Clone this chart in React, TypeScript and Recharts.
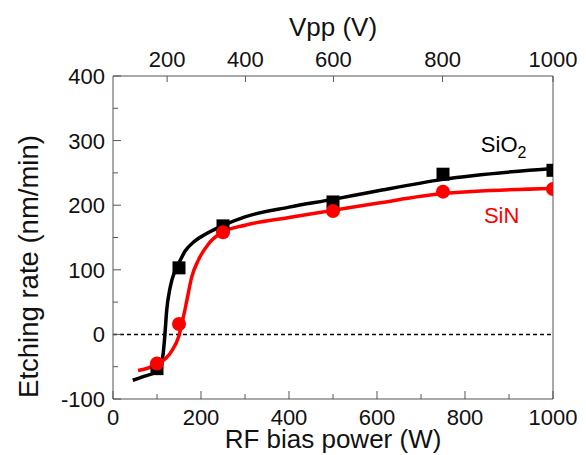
import React from "react";
import {
  ComposedChart,
  Line,
  Scatter,
  XAxis,
  YAxis,
  ReferenceLine,
  ReferenceDot,
  Label,
} from "recharts";

const FONT = '"Liberation Sans", Arial, Helvetica, sans-serif';
const AXIS = "#555";
const INK = "#111";

// measured points (RF bias power in W, etching rate in nm/min)
const POWER = [100, 150, 250, 500, 750, 1000];
const SIO2_RATE = [-53, 103, 168, 205, 248, 254];
const SIN_RATE = [-45, 16, 158, 191, 221, 225];

// fitted curves
const SIO2_FIT_W = [45, 70, 102, 108, 114, 118, 122, 130, 141, 150, 164, 185, 210, 248, 300, 400, 500, 600, 750, 1000];
const SIO2_FIT_V = [-71, -65, -56, -47, -30, 0, 37, 73, 99, 111, 129, 144, 155, 168, 182, 197, 209, 222, 240, 257];
const SIN_FIT_W = [57, 80, 103, 120, 134, 149, 160, 168, 179, 194, 217, 248, 300, 400, 500, 600, 750, 1000];
const SIN_FIT_V = [-56, -52, -45, -37, -25, -4, 27, 53, 89, 115, 140, 158, 169, 181, 192, 203, 218, 226];

// axes
const X_TICKS = [0, 100, 200, 300, 400, 500, 600, 700, 800, 900, 1000];
const X_LABELS = [0, 200, 400, 600, 800, 1000];
const Y_TICKS = [-100, -50, 0, 50, 100, 150, 200, 250, 300, 350, 400];
const Y_LABELS = [-100, 0, 100, 200, 300, 400];
// top Vpp axis: where each Vpp value falls on the power scale
const VPP_AT_POWER = [123, 301, 501, 749, 1000];
const VPP_LABELS = ["200", "400", "600", "800", "1000"];

const zip = (xs: number[], ys: number[]) => xs.map((w, i) => ({ w, v: ys[i] }));

const sio2Points = zip(POWER, SIO2_RATE);
const sinPoints = zip(POWER, SIN_RATE);
const sio2Fit = zip(SIO2_FIT_W, SIO2_FIT_V);
const sinFit = zip(SIN_FIT_W, SIN_FIT_V);

const BottomTick = (props: any) => {
  const { x, y, payload } = props;
  const major = X_LABELS.includes(payload.value);
  return (
    <g>
      <line x1={x} y1={y} x2={x} y2={y - (major ? 8 : 5)} stroke={AXIS} />
      {major && (
        <text x={x} y={y + 26} textAnchor="middle" fontSize={22} fontFamily={FONT} fill={INK}>
          {payload.value}
        </text>
      )}
    </g>
  );
};

const LeftTick = (props: any) => {
  const { x, y, payload } = props;
  const major = Y_LABELS.includes(payload.value);
  return (
    <g>
      <line x1={x} y1={y} x2={x + (major ? 8 : 5)} y2={y} stroke={AXIS} />
      {major && (
        <text x={x - 8} y={y + 8} textAnchor="end" fontSize={22} fontFamily={FONT} fill={INK}>
          {payload.value}
        </text>
      )}
    </g>
  );
};

const TopTick = (props: any) => {
  const { x, y, payload } = props;
  const i = VPP_AT_POWER.indexOf(payload.value);
  return (
    <g>
      <line x1={x} y1={y} x2={x} y2={y + 6} stroke={AXIS} />
      <text x={x} y={y - 9} textAnchor="middle" fontSize={22} fontFamily={FONT} fill={INK}>
        {VPP_LABELS[i]}
      </text>
    </g>
  );
};

const BottomTitle = (props: any) => {
  const { x, y, width } = props.viewBox;
  return (
    <text x={x + width / 2} y={y + 49} textAnchor="middle" fontSize={26} fontFamily={FONT} fill={INK}>
      RF bias power (W)
    </text>
  );
};

const TopTitle = (props: any) => {
  const { x, y, width } = props.viewBox;
  return (
    <text x={x + width / 2} y={y + 36} textAnchor="middle" fontSize={26} fontFamily={FONT} fill={INK}>
      Vpp (V)
    </text>
  );
};

const LeftTitle = (props: any) => {
  const { x, y, height } = props.viewBox;
  const cx = x + 38;
  const cy = y + height / 2 + 29;
  return (
    <text
      x={cx}
      y={cy}
      transform={`rotate(-90 ${cx} ${cy})`}
      textAnchor="middle"
      fontSize={27.5}
      fontFamily={FONT}
      fill={INK}
    >
      Etching rate (nm/min)
    </text>
  );
};

const Sio2Tag = (props: any) => {
  const { x, y } = props.viewBox;
  return (
    <text x={x} y={y} fontSize={22} fontFamily={FONT} fill="#000">
      SiO
      <tspan dy={6} fontSize={16}>2</tspan>
    </text>
  );
};

const SinTag = (props: any) => {
  const { x, y } = props.viewBox;
  return (
    <text x={x} y={y} fontSize={22} fontFamily={FONT} fill="#ff0000">
      SiN
    </text>
  );
};

const Square = (props: any) => {
  const { cx, cy } = props;
  return <rect x={cx - 6.5} y={cy - 6.5} width={13} height={13} fill="#000" />;
};

const Dot = (props: any) => {
  const { cx, cy } = props;
  return <circle cx={cx} cy={cy} r={7} fill="#ff0000" />;
};

export default function App() {
  return (
    <div style={{ position: "absolute", left: 0, top: 0, width: 586, height: 455, background: "#fff" }}>
      <ComposedChart width={586} height={455} margin={{ top: 0, right: 33, bottom: 0, left: 0 }}>
        <XAxis
          xAxisId="bottom"
          dataKey="w"
          type="number"
          domain={[0, 1000]}
          allowDataOverflow
          ticks={X_TICKS}
          interval={0}
          tickSize={0}
          tickMargin={0}
          tickLine={false}
          tick={<BottomTick />}
          axisLine={{ stroke: AXIS }}
          height={56}
        >
          <Label content={<BottomTitle />} />
        </XAxis>
        <XAxis
          xAxisId="top"
          orientation="top"
          dataKey="w"
          type="number"
          domain={[0, 1000]}
          allowDataOverflow
          ticks={VPP_AT_POWER}
          interval={0}
          tickSize={0}
          tickMargin={0}
          tickLine={false}
          tick={<TopTick />}
          axisLine={{ stroke: AXIS }}
          height={76}
        >
          <Label content={<TopTitle />} />
        </XAxis>
        <YAxis
          yAxisId="left"
          type="number"
          domain={[-100, 400]}
          allowDataOverflow
          ticks={Y_TICKS}
          interval={0}
          tickSize={0}
          tickMargin={0}
          tickLine={false}
          tick={<LeftTick />}
          axisLine={{ stroke: AXIS }}
          width={113}
        >
          <Label content={<LeftTitle />} />
        </YAxis>

        <ReferenceLine xAxisId="bottom" yAxisId="left" x={1000} stroke={AXIS} />
        <ReferenceLine
          xAxisId="bottom"
          yAxisId="left"
          y={0}
          stroke="#000"
          strokeWidth={1.5}
          strokeDasharray="4 3"
        />

        <Line
          xAxisId="bottom"
          yAxisId="left"
          data={sio2Fit}
          dataKey="v"
          type="monotone"
          stroke="#000"
          strokeWidth={3.5}
          dot={false}
          activeDot={false}
          isAnimationActive={false}
        />
        <Line
          xAxisId="bottom"
          yAxisId="left"
          data={sinFit}
          dataKey="v"
          type="monotone"
          stroke="#ff0000"
          strokeWidth={3.5}
          dot={false}
          activeDot={false}
          isAnimationActive={false}
        />
        <Scatter
          xAxisId="bottom"
          yAxisId="left"
          data={sio2Points}
          dataKey="v"
          shape={<Square />}
          isAnimationActive={false}
        />
        <Scatter
          xAxisId="bottom"
          yAxisId="left"
          data={sinPoints}
          dataKey="v"
          shape={<Dot />}
          isAnimationActive={false}
        />

        <ReferenceDot xAxisId="bottom" yAxisId="left" x={836} y={282} r={0} stroke="none" fill="none">
          <Label content={<Sio2Tag />} />
        </ReferenceDot>
        <ReferenceDot xAxisId="bottom" yAxisId="left" x={843} y={173} r={0} stroke="none" fill="none">
          <Label content={<SinTag />} />
        </ReferenceDot>
      </ComposedChart>
    </div>
  );
}
